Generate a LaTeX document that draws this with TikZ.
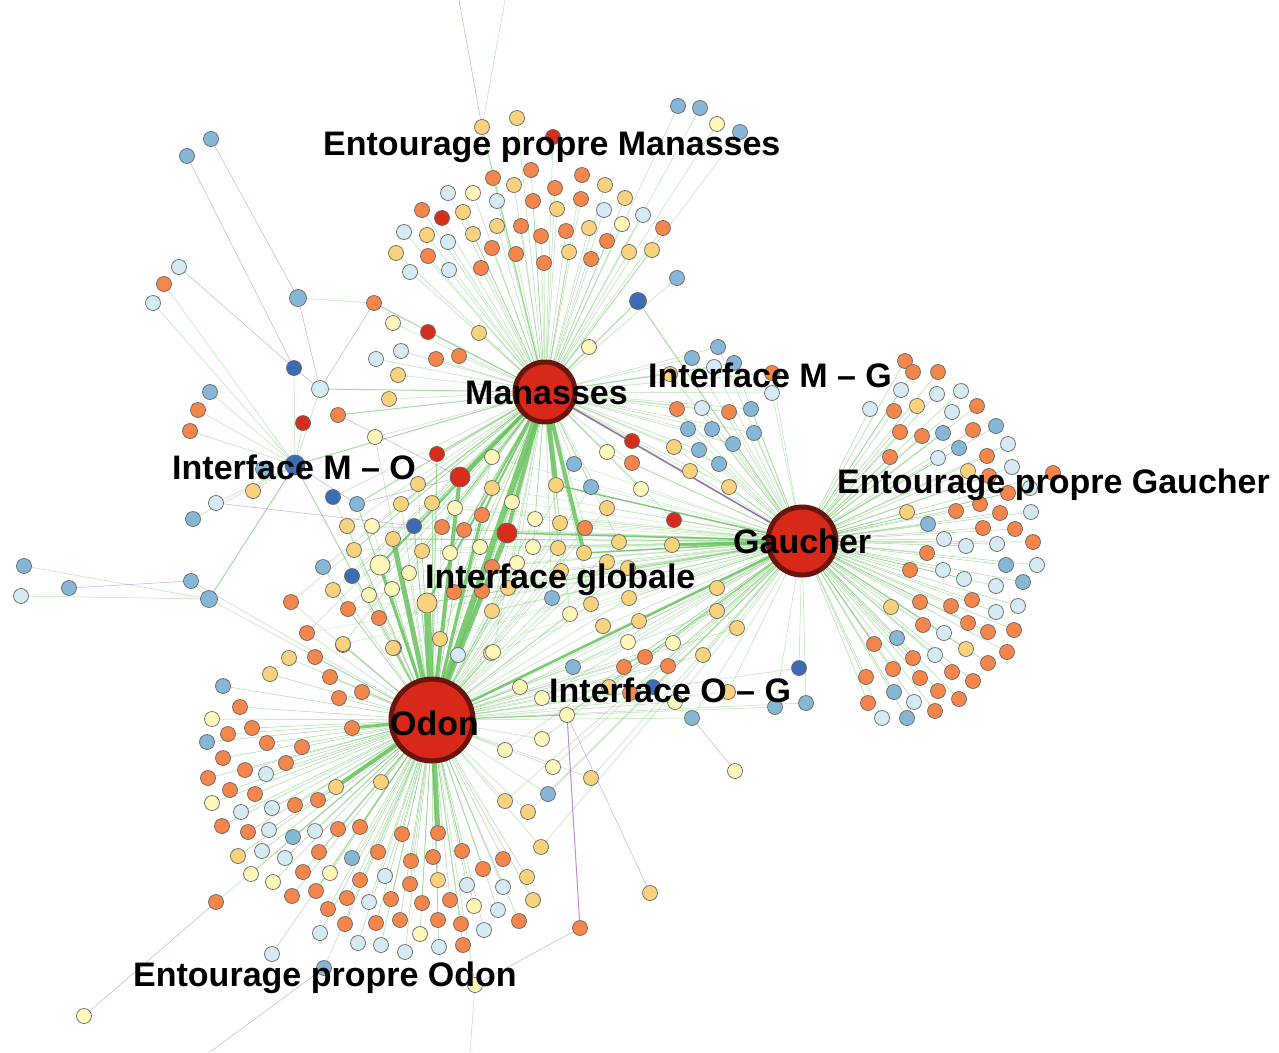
\documentclass[tikz,border=0pt]{standalone}
\usepackage{fontspec}
\setmainfont{Liberation Sans}
\pgfdeclarelayer{bgfill}
\pgfdeclarelayer{edges}
\pgfsetlayers{bgfill,edges,main}
\definecolor{kO}{RGB}{244,133,75}
\definecolor{kY}{RGB}{249,210,125}
\definecolor{kP}{RGB}{254,247,185}
\definecolor{kB}{RGB}{213,234,242}
\definecolor{kM}{RGB}{134,183,214}
\definecolor{kD}{RGB}{60,108,180}
\definecolor{kR}{RGB}{214,45,28}
\definecolor{hubfill}{RGB}{215,40,25}
\definecolor{hubline}{RGB}{105,20,12}
\definecolor{eG}{RGB}{105,195,95}
\definecolor{eP}{RGB}{170,110,200}
\tikzset{
 dot/.style={circle,draw=black!60,line width=0.7pt,minimum size=15pt,inner sep=0pt},
 bigdot/.style={dot,minimum size=20pt},
 middot/.style={dot,minimum size=17pt},
 hub/.style={circle,fill=hubfill,draw=hubline,line width=5pt,inner sep=0pt},
 lbl/.style={font=\bfseries\fontsize{34}{40}\selectfont,inner sep=0pt,anchor=base west},
 ge/.style={draw=eG,line width=0.5pt,opacity=0.5},
 gm/.style={draw=eG,line width=1pt,opacity=0.6},
 gw/.style={draw=eG,line width=#1,opacity=0.85},
 pe/.style={draw=eP,line width=0.5pt,opacity=0.6},
 pm/.style={draw=eP,line width=1pt,opacity=0.8},
 pw/.style={draw=eP!80!black,line width=1.5pt,opacity=0.85},
}
\def\EMlist{678/106/kM,700/108/kM,717/124/kP,740/132/kM,517/118/kY,553/137/kR,531/170/kO,493/178/kO,514/185/kY,582/175/kO,555/188/kO,605/185/kY,625/198/kY,448/193/kB,473/193/kP,497/201/kB,533/201/kO,581/199/kO,557/209/kY,604/210/kB,643/215/kB,422/210/kO,442/218/kR,463/212/kY,404/232/kB,427/235/kY,448/242/kB,473/234/kY,497/226/kY,521/226/kO,541/236/kO,566/231/kO,589/228/kY,622/224/kP,663/228/kO,607/241/kO,396/253/kY,428/256/kO,492/248/kO,516/254/kO,569/252/kY,629/252/kY,652/250/kY,591/259/kO,410/272/kB,449/270/kB,481/268/kO,544/263/kO,677/278/kM,393/323/kP,428/332/kR,479/333/kY,376/359/kB,401/351/kB,436/359/kO,459/356/kO,398/375/kY,389/399/kY,589/347/kP}
\def\MGlist{692/358/kM,718/347/kM,714/367/kB,734/363/kM,670/374/kY,772/373/kO,772/393/kB,677/409/kO,702/408/kB,729/412/kO,751/409/kM,688/429/kM,712/429/kM,733/444/kM,754/433/kM,699/450/kM,719/464/kM,674/447/kY,690/471/kY,729/487/kY,632/441/kR,632/463/kO,607/452/kP,641/489/kP,674/520/kR}
\def\EGlist{905/361/kO,913/372/kO,938/372/kO,901/390/kB,937/394/kB,961/391/kB,870/409/kB,894/411/kO,917/406/kY,952/412/kB,977/406/kO,900/432/kO,922/436/kO,943/433/kM,973/430/kO,996/426/kM,890/457/kO,938/458/kB,959/448/kM,987/456/kO,1008/444/kB,1012/467/kB,968/471/kY,989/476/kO,1008/493/kO,1053/473/kO,1030/488/kB,907/512/kY,956/511/kO,980/504/kO,1000/513/kO,1031/512/kB,928/524/kM,983/528/kO,1015/529/kO,944/539/kB,966/546/kB,997/544/kB,1033/542/kO,927/553/kO,1006/565/kM,1037/565/kB,910/570/kO,943/570/kB,964/579/kB,996/586/kB,1023/582/kM,891/607/kY,920/602/kO,951/606/kO,972/600/kO,996/612/kB,1018/606/kB,923/625/kO,944/633/kB,968/623/kO,988/632/kO,1014/630/kO,874/644/kO,897/638/kM,913/658/kO,935/655/kB,966/649/kY,988/663/kO,1007/652/kO,893/669/kO,920/678/kO,952/672/kO,973/681/kO,866/677/kO,894/692/kM,914/702/kB,938/691/kO,959/699/kO,868/703/kO,935/711/kO,882/718/kB,907/718/kM}
\def\OGlist{717/588/kY,717/611/kY,737/628/kY,673/643/kP,703/655/kY,668/666/kO,645/657/kO,624/667/kO,609/687/kY,630/693/kO,653/687/kD,675/702/kP,728/692/kY,775/707/kM,806/703/kM,799/668/kD,520/687/kP,542/698/kP,573/667/kM,628/642/kP,639/621/kY,603/626/kY,591/778/kY,628/568/kY,629/598/kY,607/562/kY,542/739/kP,505/750/kP,553/767/kP,548/794/kM,505/801/kY,528/812/kY,541/847/kY}
\def\EOlist{223/686/kM,240/707/kO,212/719/kP,207/742/kM,228/734/kO,252/728/kO,267/743/kO,302/747/kO,223/758/kO,245/770/kO,266/774/kB,286/763/kO,208/778/kO,230/790/kO,255/794/kO,212/803/kP,241/812/kB,272/808/kB,295/805/kO,318/800/kO,381/782/kY,222/826/kO,248/832/kO,269/830/kB,293/837/kM,315/831/kB,338/829/kO,360/827/kO,402/834/kO,238/856/kY,262/851/kB,285/858/kB,319/852/kO,352/858/kM,378/852/kO,411/861/kO,433/857/kO,462/851/kO,503/859/kO,251/874/kP,273/882/kP,303/872/kO,330/873/kP,360/880/kO,385/876/kB,410/884/kO,438/880/kY,467/885/kB,483/869/kO,503/887/kB,527/877/kY,533/900/kY,292/896/kO,316/891/kO,328/909/kO,347/898/kO,369/902/kB,391/899/kO,422/903/kO,450/900/kO,474/906/kP,498/910/kB,519/921/kO,345/924/kO,376/923/kO,400/920/kO,438/920/kO,461/924/kO,484/930/kB,420/934/kP,320/933/kB,358/943/kB,381/945/kB,405/952/kB,439/947/kB,463/945/kO,272/954/kB,270/674/kY,289/658/kY,315/657/kO,330/677/kO,339/698/kO,362/692/kO,343/645/kY,394/648/kY,491/653/kP}
\def\LOlist{263/469/kM,253/491/kY,193/519/kM,210/392/kM,198/410/kO,190/431/kO,303/423/kR,164/284/kO,153/303/kB}
\def\MOlist{333/497/kD,323/567/kM,352/576/kD,333/590/kY,375/437/kP,418/484/kY,291/602/kO}
\def\IGlist{492/457/kP,492/488/kY,401/504/kY,432/503/kY,455/508/kP,347/526/kY,372/526/kP,442/527/kO,464/530/kO,354/550/kY,422/551/kY,450/553/kP,480/547/kP,409/573/kP,369/595/kP,392/589/kP,454/592/kO,482/591/kO,492/567/kO,492/611/kY,348/609/kO,379/618/kO,307/633/kO,343/644/kY,393/648/kY,440/639/kY,458/655/kB,574/464/kM,591/487/kM,512/502/kP,607/508/kY,535/519/kP,560/523/kY,585/528/kO,533/547/kP,558/548/kY,619/542/kY,517/563/kP,561/571/kY,552/598/kM,591/604/kY,508/588/kY,570/614/kP,493/652/kP}
\begin{document}
\begin{tikzpicture}[x=1pt,y=-1pt]
\begin{pgfonlayer}{bgfill}
\fill[white] (0,0) rectangle (1279,1052);
\end{pgfonlayer}
\useasboundingbox (0,0) rectangle (1279,1052);
% hubs
\node[hub,minimum size=60pt] (M) at (545,392) {};
\node[hub,minimum size=68pt] (G) at (802,541) {};
\node[hub,minimum size=82pt] (O) at (432,720) {};
% special nodes
\node[bigdot,fill=kR] (ir1) at (460,477) {};
\node[bigdot,fill=kR] (ir2) at (507,533) {};
\node[bigdot,fill=kP] (ip1) at (380,565) {};
\node[bigdot,fill=kY] (iy1) at (427,603) {};
\node[bigdot,fill=kD] (imo) at (295,465) {};
\node[middot,fill=kD] (mgd) at (638,301) {};
\node[middot,fill=kB] (lb1) at (320,389) {};
\node[middot,fill=kM] (lm1) at (209,599) {};
\node[middot,fill=kM] (lm2) at (298,298) {};
\node[dot,fill=kY] (s1) at (393,539) {};
\node[dot,fill=kY] (s2) at (556,485) {};
\node[dot,fill=kY] (s3) at (584,553) {};
\node[dot,fill=kO] (s4) at (438,833) {};
\node[dot,fill=kY] (s5) at (336,787) {};
\node[dot,fill=kO] (s6) at (352,728) {};
\node[dot,fill=kY] (s7) at (672,545) {};
\node[dot,fill=kO] (s8) at (482,515) {};
\node[dot,fill=kP] (s9) at (567,715) {};
\node[dot,fill=kO] (s10) at (580,928) {};
\node[dot,fill=kP] (s11) at (475,985) {};
\node[dot,fill=kO] (s12) at (216,902) {};
\node[dot,fill=kP] (s13) at (84,1016) {};
\node[dot,fill=kM] (s14) at (324,968) {};
\node[dot,fill=kM] (s15) at (211,139) {};
\node[dot,fill=kM] (s16) at (187,156) {};
\node[dot,fill=kD] (s17) at (294,368) {};
\node[dot,fill=kB] (s18) at (179,267) {};
\node[dot,fill=kO] (s19) at (374,303) {};
\node[dot,fill=kO] (s20) at (338,415) {};
\node[dot,fill=kR] (s21) at (437,454) {};
\node[dot,fill=kB] (s22) at (216,503) {};
\node[dot,fill=kD] (s23) at (414,526) {};
\node[dot,fill=kM] (s24) at (357,504) {};
\node[dot,fill=kM] (s25) at (69,588) {};
\node[dot,fill=kM] (s26) at (191,581) {};
\node[dot,fill=kM] (s27) at (24,566) {};
\node[dot,fill=kB] (s28) at (21,596) {};
\node[dot,fill=kM] (s29) at (692,718) {};
\node[dot,fill=kP] (s30) at (735,771) {};
\node[dot,fill=kY] (s31) at (482,127) {};
\node[dot,fill=kY] (s32) at (650,893) {};
\coordinate (t1) at (459,0);
\coordinate (t2) at (505,0);
\coordinate (b1) at (210,1052);
\coordinate (b2) at (470,1052);
% groups of nodes
\foreach \x/\y/\c [count=\i] in \EMlist {\node[dot,fill=\c] (em\i) at (\x,\y) {};}
\foreach \x/\y/\c [count=\i] in \MGlist {\node[dot,fill=\c] (mg\i) at (\x,\y) {};}
\foreach \x/\y/\c [count=\i] in \EGlist {\node[dot,fill=\c] (eg\i) at (\x,\y) {};}
\foreach \x/\y/\c [count=\i] in \OGlist {\node[dot,fill=\c] (og\i) at (\x,\y) {};}
\foreach \x/\y/\c [count=\i] in \EOlist {\node[dot,fill=\c] (eo\i) at (\x,\y) {};}
\foreach \x/\y/\c [count=\i] in \LOlist {\node[dot,fill=\c] (lo\i) at (\x,\y) {};}
\foreach \x/\y/\c [count=\i] in \MOlist {\node[dot,fill=\c] (mo\i) at (\x,\y) {};}
\foreach \x/\y/\c [count=\i] in \IGlist {\node[dot,fill=\c] (ig\i) at (\x,\y) {};}
\begin{pgfonlayer}{edges}
\foreach \x/\y/\c [count=\i] in \EMlist {\draw[ge] (M) -- (em\i);}
\foreach \x/\y/\c [count=\i] in \MGlist {\draw[ge] (M) -- (mg\i); \draw[ge] (G) -- (mg\i);}
\foreach \x/\y/\c [count=\i] in \EGlist {\draw[ge,opacity=0.6] (G) -- (eg\i);}
\foreach \x/\y/\c [count=\i] in \OGlist {\draw[ge] (O) -- (og\i); \draw[ge] (G) -- (og\i);}
\foreach \x/\y/\c [count=\i] in \EOlist {\draw[ge,opacity=0.6] (O) -- (eo\i);}
\foreach \x/\y/\c [count=\i] in \LOlist {\draw[ge] (imo) -- (lo\i);}
\foreach \x/\y/\c [count=\i] in \MOlist {\draw[ge] (M) -- (mo\i); \draw[ge] (O) -- (mo\i);}
\foreach \x/\y/\c [count=\i] in \IGlist {\draw[ge] (M) -- (ig\i); \draw[ge] (O) -- (ig\i); \draw[ge,opacity=0.35] (G) -- (ig\i);}
\draw[gw=6pt] (O) -- (M);
\draw[gw=7pt] (O) -- (iy1);
\draw[gw=5pt] (O) -- (s1);
\draw[gw=4pt] (O) -- (ir1);
\draw[gw=5pt] (O) -- (ir2);
\draw[gw=3pt] (O) -- (ip1);
\draw[gw=3pt] (O) -- (s8);
\draw[gw=5pt] (O) -- (s4);
\draw[gw=4pt] (O) -- (s5);
\draw[gw=3pt] (O) -- (s6);
\draw[gw=2.5pt] (O) -- (G);
\draw[gw=5pt] (M) -- (s2);
\draw[gw=4pt] (M) -- (s3);
\draw[gw=4pt] (M) -- (ir2);
\draw[gw=3pt] (M) -- (ir1);
\draw[gw=2pt] (M) -- (ip1);
\draw[gw=2pt] (M) -- (iy1);
\draw[gw=2pt] (M) -- (s8);
\draw[gw=3pt] (G) -- (s7);
\draw[gw=1.5pt] (G) -- (ir2);
\draw[gw=1.5pt] (G) -- (s3);
\draw[gw=1.5pt] (G) -- (s2);
\draw[gm] (G) -- (s1);
\draw[gm] (G) -- (iy1);
\draw[gm] (G) -- (s9);
\draw[gm] (O) -- (s9);
\draw[gm] (M) -- (imo);
\draw[gm] (O) -- (imo);
\draw[gm] (imo) -- (lm1);
\draw[gm] (M) -- (mgd);
\draw[gm] (G) -- (mgd);
\draw[gm] (M) -- (lb1);
\draw[gm] (M) -- (s19);
\draw[gm] (M) -- (s20);
\draw[gm] (M) -- (s21);
\draw[gm] (O) -- (s21);
\draw[gm] (M) -- (s23);
\draw[gm] (O) -- (s23);
\draw[gm] (M) -- (s24);
\draw[gm] (O) -- (s24);
\draw[gm] (M) -- (s31);
\draw[ge] (O) -- (s12);
\draw[ge] (O) -- (s14);
\draw[ge] (O) -- (s11);
\draw[ge] (G) -- (s29);
\draw[ge] (O) -- (s29);
\draw[ge] (imo) -- (s22);
\draw[ge] (imo) -- (s17);
\draw[ge] (imo) -- (lb1);
\draw[ge] (lm2) -- (s19);
\draw[ge] (s26) -- (lm1);
\draw[ge] (s27) -- (lm1);
\draw[ge] (s28) -- (lm1);
\draw[ge] (lm1) -- (O);
\draw[ge] (s26) -- (O);
\draw[pw] (M) -- (G);
\draw[pe] (s15) -- (lm2);
\draw[pe] (s16) -- (s17);
\draw[pe] (s18) -- (s17);
\draw[pe] (lm2) -- (lb1);
\draw[pe] (s19) -- (lb1);
\draw[pe] (s20) -- (ir1);
\draw[pe] (s22) -- (s23);
\draw[pe] (s24) -- (ir1);
\draw[pe] (s25) -- (s26);
\draw[pm] (s9) -- (s10);
\draw[pe] (s9) -- (s32);
\draw[pe] (s10) -- (s11);
\draw[pe] (s13) -- (s12);
\draw[pe] (s14) -- (b1);
\draw[ge] (s11) -- (b2);
\draw[pe] (s29) -- (s30);
\draw[pe] (s31) -- (t1);
\draw[ge] (s31) -- (t2);
\draw[pe] (s17) -- (lb1);
\draw[pe] (imo) -- (s24);
\end{pgfonlayer}
% labels
\node[lbl] (l1) at (323,155) {Entourage propre Manasses};
\node[lbl] (l2) at (465,404) {Manasses};
\node[lbl] (l3) at (648,387) {Interface M – G};
\node[lbl] (l4) at (172,479) {Interface M – O};
\node[lbl] (l5) at (837,493) {Entourage propre Gaucher};
\node[lbl] (l6) at (733,553) {Gaucher};
\node[lbl] (l7) at (425,588) {Interface globale};
\node[lbl] (l8) at (549,702) {Interface O – G};
\node[lbl] (l9) at (390,735) {Odon};
\node[lbl] (l10) at (133,986) {Entourage propre Odon};
\end{tikzpicture}
\end{document}
